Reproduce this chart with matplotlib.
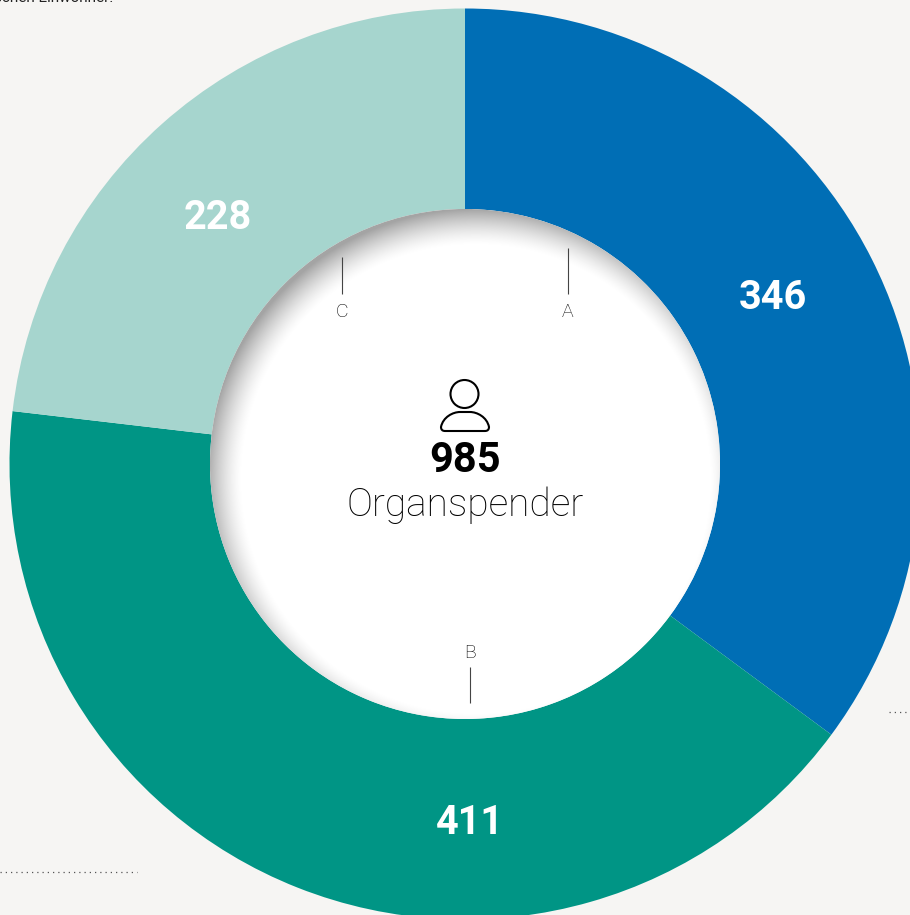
import numpy as np
import matplotlib
matplotlib.use("Agg")
import matplotlib.pyplot as plt
from matplotlib.patches import Circle, PathPatch
from matplotlib.path import Path

categories = ["A", "B", "C"]
values = [346, 411, 228]
total_label = "985"
center_label = "Organspender"
colors = ["#006EB5", "#009585", "#A6D5CE"]
BG = "#F6F5F3"
W, H = 910, 915
CX, CY = 465, 464
R_OUT, R_IN = 455.5, 255

def Y(py):
    return H - py

plt.rcParams['font.family'] = ['Roboto', 'DejaVu Sans']
fig = plt.figure(figsize=(W / 100, H / 100), dpi=100, facecolor=BG)
ax = fig.add_axes([0, 0, 1, 1])
ax.pie(values, colors=colors, startangle=90, counterclock=False, radius=R_OUT,
       center=(CX, Y(CY)), frame=True,
       wedgeprops=dict(width=R_OUT - R_IN, linewidth=0))
ax.set_xlim(0, W)
ax.set_ylim(0, H)
ax.set_aspect('equal')
ax.axis('off')

# white disc with inner shadow falling from the upper left
disc = Circle((CX, Y(CY)), R_IN, facecolor='white', edgecolor='none', zorder=3)
ax.add_patch(disc)
xx, yy = np.meshgrid(np.arange(W) + .5, np.arange(H) + .5)
d = np.hypot(xx - (CX + 11), yy - (CY + 15))
t = np.clip((d - (R_IN - 22)) / 37, 0, 1)
alpha = 0.36 * t ** 1.5
rgba = np.zeros((H, W, 4))
rgba[..., 3] = alpha
im = ax.imshow(rgba, extent=(0, W, 0, H), origin='upper', zorder=4,
               interpolation='nearest', aspect='equal')
im.set_clip_path(disc)
ax.set_xlim(0, W)
ax.set_ylim(0, H)

# segment values
for txt, (x, y) in zip(values, [(773, 298), (470, 823), (218, 218)]):
    ax.text(x, Y(y), str(txt), color='white', fontsize=28.5, fontweight='bold',
            ha='center', va='center', zorder=6)

# leader lines and labels
for lab, x, y0, y1, ty in zip(categories, [568, 470, 342], [248, 667, 257],
                              [294, 703, 294], [312, 653, 312]):
    ax.plot([x, x], [Y(y0), Y(y1)], color='#444444', lw=0.8, zorder=6, solid_capstyle='butt')
    ax.text(x, Y(ty), lab, color='#000000', fontsize=14, fontweight='light',
            ha='center', va='center', zorder=6)

# person icon
ax.add_patch(Circle((464.5, Y(394)), 14, fill=False, edgecolor='black', lw=1.5, zorder=6))
body = Path([(445, Y(431)), (441, Y(431)), (441, Y(427)),
             (443, Y(417)), (453, Y(412)), (460, Y(412)),
             (470, Y(412)),
             (477, Y(412)), (487, Y(417)), (489, Y(427)),
             (489, Y(431)), (485, Y(431)),
             (445, Y(431))],
            [Path.MOVETO, Path.CURVE3, Path.CURVE3,
             Path.CURVE4, Path.CURVE4, Path.CURVE4,
             Path.LINETO,
             Path.CURVE4, Path.CURVE4, Path.CURVE4,
             Path.CURVE3, Path.CURVE3, Path.CLOSEPOLY])
ax.add_patch(PathPatch(body, fill=False, edgecolor='black', lw=1.5, zorder=6))

ax.text(465, Y(461), total_label, color='black', fontsize=30, fontweight='bold',
        ha='center', va='center', zorder=6)
ax.text(465, Y(505), center_label, color='#000000', fontsize=28, fontweight='light',
        ha='center', va='center', zorder=6)

# fragments of surrounding page
ax.plot([0, 137], [Y(871.5)] * 2, color='#555555', lw=0.9, ls=(0, (1, 3.2)), zorder=1)
ax.plot([889, 908], [Y(712)] * 2, color='#555555', lw=0.9, ls=(0, (1, 3.2)), zorder=1)
ax.text(-6, Y(2), "schen Einwohner.", color='#222222', fontsize=11, ha='left',
        va='baseline', zorder=1, clip_on=False)

fig.savefig("out.png", dpi=100, facecolor=BG)
